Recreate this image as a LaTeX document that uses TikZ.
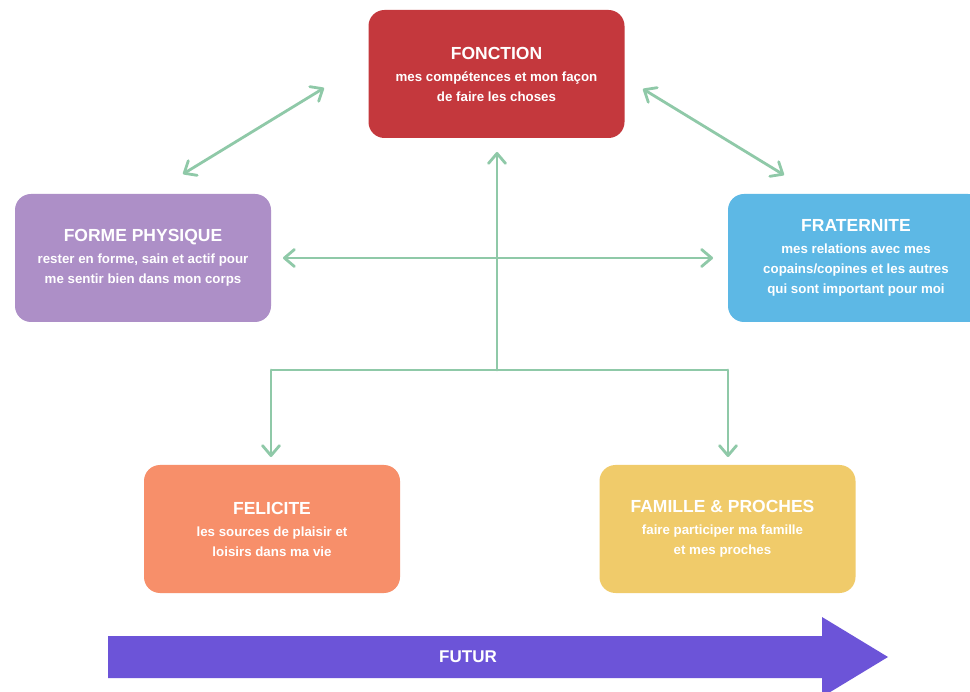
\documentclass[tikz,border=0pt]{standalone}
\usepackage{fontspec}
\setmainfont{Liberation Sans}
\usetikzlibrary{arrows.meta}
\definecolor{cRed}{HTML}{C4383D}
\definecolor{cPurple}{HTML}{AD8FC7}
\definecolor{cBlue}{HTML}{5DB8E5}
\definecolor{cOrange}{HTML}{F78F6A}
\definecolor{cYellow}{HTML}{F0CB6A}
\definecolor{cArrow}{HTML}{6C54D8}
\definecolor{cGreen}{HTML}{8FC9A8}
\newcommand{\ttl}[1]{{\fontsize{17.5}{20}\selectfont #1}\\[2pt]}
\begin{document}
\begin{tikzpicture}[x=1pt,y=-1pt,
  card/.style={draw=none, rounded corners=16pt, minimum width=256pt, minimum height=128pt,
    text=white, align=center, inner sep=0pt,
    font=\bfseries\fontsize{13.3}{20}\selectfont},
  conn/.style={draw=cGreen, line width=2.8pt, line cap=round,
    arrows={-Straight Barb[length=10pt,width=17pt,round]}},
  connd/.style={conn, arrows={Straight Barb[length=10pt,width=17pt,round]-Straight Barb[length=10pt,width=17pt,round]}},
  plain/.style={draw=cGreen, line width=2.8pt}]
\useasboundingbox (0,0) rectangle (970,692);
\fill[white] (0,0) rectangle (970,692);

\node[card, fill=cRed] (fonction) at (496.5,74) {\ttl{FONCTION}mes compétences et mon façon\\de faire les choses};
\node[card, fill=cPurple] (forme) at (143,258) {\ttl{FORME PHYSIQUE}rester en forme, sain et actif pour\\me sentir bien dans mon corps};
\node[card, fill=cBlue] (frat) at (856,258) {\ttl{FRATERNITE}mes relations avec mes\\copains/copines et les autres\\qui sont important pour moi};
\node[card, fill=cOrange] (feli) at (272,529) {\ttl{FELICITE}les sources de plaisir et\\loisirs dans ma vie};
\node[card, fill=cYellow] (fam) at (727.5,529) {};
\node[text=white, align=center, inner sep=0pt, font=\bfseries\fontsize{13.3}{20}\selectfont] (famtext) at ([xshift=-5pt]fam.center) {\ttl{FAMILLE \& PROCHES}faire participer ma famille\\et mes proches};

% future arrow
\fill[cArrow] (108,636) -- (822,636) -- (822,617) -- (888,657) -- (822,697) -- (822,678) -- (108,678) -- cycle;
\node[text=white, font=\bfseries\fontsize{17}{20}\selectfont] (futur) at (468,657) {FUTUR};

% connector end points
\coordinate (a1) at (183,174);
\coordinate (a2) at (324,88);
\coordinate (b1) at (643,89);
\coordinate (b2) at (784,175);
\coordinate (h1) at (283,258);
\coordinate (h2) at (713,258);
\coordinate (vb) at (497,370);
\coordinate (vt) at (497,152);
\coordinate (lc) at (271,370);
\coordinate (lt) at (271,457);
\coordinate (rc) at (728,370);
\coordinate (rt) at (728,457);

\draw[connd] (a1) -- (a2);
\draw[connd] (b1) -- (b2);
\draw[connd] (h1) -- (h2);
\draw[conn] (vb) -- (vt);
\draw[plain] (lc) -- (rc);
\draw[conn] (lc) -- (lt);
\draw[conn] (rc) -- (rt);
\end{tikzpicture}
\end{document}
